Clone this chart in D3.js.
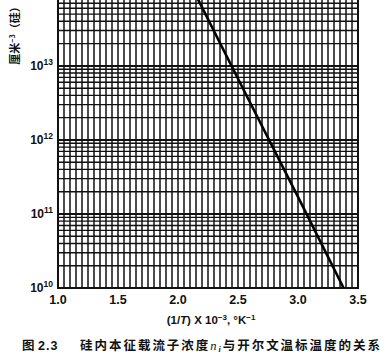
<!DOCTYPE html>
<html>
<head>
<meta charset="utf-8">
<script src="https://cdn.jsdelivr.net/npm/d3@7"></script>
<style>
  html, body { margin: 0; padding: 0; background: #fff; }
  svg { display: block; }
  text { font-family: "Liberation Sans", Arial, sans-serif; font-weight: bold; fill: #111; }
  .cjk { font-family: "Noto Sans CJK SC", sans-serif; }
</style>
</head>
<body>
<div id="chart"></div>
<script>
// readings: 1/T (x10^-3 K^-1) vs intrinsic carrier density (cm^-3)
var invT = [2.1, 2.5, 3.0, 3.38];
var carriers = [1.3e14, 6.7e12, 1.7e11, 1.0e10];

// tick labels
var xTicks = [1.0, 1.5, 2.0, 2.5, 3.0, 3.5];
var yExponents = [10, 11, 12, 13];

const width = 389;
const height = 355;

var svg = d3.select("#chart")
  .append("svg")
  .attr("width", width)
  .attr("height", height);

var x = d3.scaleLinear().domain([1.0, 3.5]).range([58, 358]);
var y = d3.scaleLog().domain([1e10, Math.pow(10, 13.89)]).range([288, 0]);

svg.append("defs").append("clipPath")
  .attr("id", "plotclip")
  .append("rect")
  .attr("x", x(1.0))
  .attr("y", 0)
  .attr("width", x(3.5) - x(1.0))
  .attr("height", y(1e10));

var grid = svg.append("g").attr("stroke", "#111");

// vertical rules every 0.05
var vLines = d3.range(0, 51).map(function (i) { return 1.0 + i * 0.05; });
grid.selectAll(".vline")
  .data(vLines)
  .join("line")
  .attr("class", "vline")
  .attr("x1", function (d) { return x(d); })
  .attr("x2", function (d) { return x(d); })
  .attr("y1", 0)
  .attr("y2", y(1e10))
  .attr("stroke-width", 1.5);

// log rules 1..9 in each decade
var hLines = [];
[10, 11, 12, 13].forEach(function (e) {
  for (var k = 1; k <= 9; k++) {
    var v = k * Math.pow(10, e);
    if (v <= y.domain()[1]) hLines.push(v);
  }
});
grid.selectAll(".hline")
  .data(hLines)
  .join("line")
  .attr("class", "hline")
  .attr("x1", x(1.0))
  .attr("x2", x(3.5))
  .attr("y1", function (d) { return y(d); })
  .attr("y2", function (d) { return y(d); })
  .attr("stroke-width", function (d) { return yExponents.some(function (e) { return Math.abs(d - Math.pow(10, e)) < 1; }) ? 2 : 1.4; });

// frame
grid.append("line").attr("x1", x(1.0)).attr("x2", x(1.0)).attr("y1", 0).attr("y2", y(1e10)).attr("stroke-width", 2);
grid.append("line").attr("x1", x(3.5)).attr("x2", x(3.5)).attr("y1", 0).attr("y2", y(1e10)).attr("stroke-width", 2);
grid.append("line").attr("x1", x(1.0) - 1).attr("x2", x(3.5) + 1).attr("y1", y(1e10)).attr("y2", y(1e10)).attr("stroke-width", 2.2);

// the n_i line
var line = d3.line()
  .x(function (d, i) { return x(invT[i]); })
  .y(function (d) { return y(d); });

svg.append("path")
  .datum(carriers)
  .attr("clip-path", "url(#plotclip)")
  .attr("d", line)
  .attr("fill", "none")
  .attr("stroke", "#000")
  .attr("stroke-width", 2.6);

// x tick labels
svg.selectAll(".xlab")
  .data(xTicks)
  .join("text")
  .attr("class", "xlab")
  .attr("x", function (d) { return x(d); })
  .attr("y", 304)
  .attr("text-anchor", "middle")
  .style("font-size", "12.5px")
  .text(function (d) { return d.toFixed(1); });

// y tick labels 10^n
var ylab = svg.selectAll(".ylab")
  .data(yExponents)
  .join("text")
  .attr("class", "ylab")
  .attr("x", 53)
  .attr("y", function (d) { return y(Math.pow(10, d)) + 4; })
  .attr("text-anchor", "end")
  .style("font-size", "12px");
ylab.append("tspan").text("10");
ylab.append("tspan")
  .attr("dy", -5)
  .style("font-size", "8.5px")
  .text(function (d) { return d; });

// x axis title
var xt = svg.append("text")
  .attr("x", 211)
  .attr("y", 324)
  .attr("text-anchor", "middle")
  .style("font-size", "11.5px");
xt.append("tspan").text("(1/");
xt.append("tspan").style("font-style", "italic").text("T");
xt.append("tspan").text(") X 10");
xt.append("tspan").attr("dy", -4).style("font-size", "8px").text("\u22123");
xt.append("tspan").attr("dy", 4).text(", \u00b0K");
xt.append("tspan").attr("dy", -4).style("font-size", "8px").text("\u22121");

// y axis title (rotated)
var yt = svg.append("text")
  .attr("class", "cjk")
  .attr("transform", "translate(19,33) rotate(-90)")
  .attr("text-anchor", "middle")
  .style("font-size", "11px");
yt.append("tspan").text("厘米");
yt.append("tspan").attr("dy", -4).style("font-size", "7px").text("\u22123");
yt.append("tspan").attr("dy", 4).text("（硅）");

// caption
svg.append("text")
  .attr("class", "cjk")
  .attr("x", 22)
  .attr("y", 350)
  .style("font-size", "12.5px")
  .text("图");
svg.append("text")
  .attr("x", 38)
  .attr("y", 350)
  .style("font-size", "12.5px")
  .style("letter-spacing", "1px")
  .text("2.3");
var cap = svg.append("text")
  .attr("class", "cjk")
  .attr("x", 80)
  .attr("y", 350)
  .attr("textLength", 300)
  .attr("lengthAdjust", "spacing")
  .style("font-size", "12.5px");
cap.append("tspan").text("硅内本征载流子浓度");
cap.append("tspan").style("font-style", "italic").style("font-family", "Liberation Serif, serif").style("font-weight", "normal").text("n");
cap.append("tspan").attr("dy", 2).style("font-size", "8px").style("font-family", "Liberation Serif, serif").style("font-style", "italic").text("i");
cap.append("tspan").attr("dy", -2).text("与开尔文温标温度的关系");
</script>
</body>
</html>
